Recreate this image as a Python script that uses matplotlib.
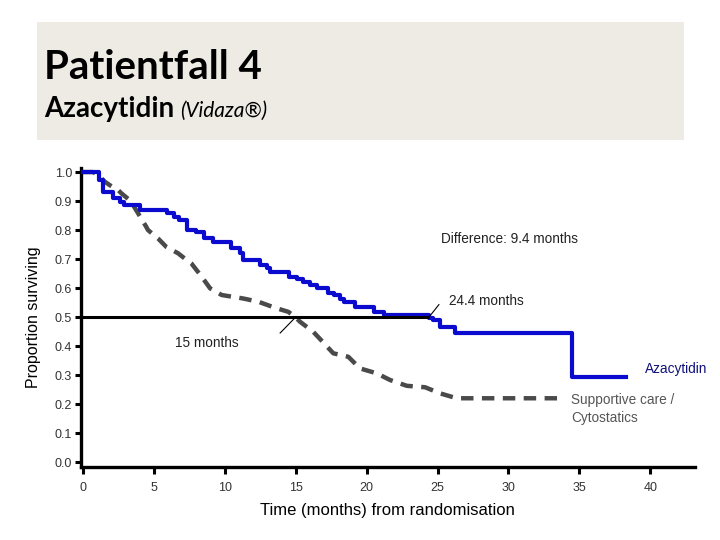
import matplotlib
matplotlib.use("Agg")
import matplotlib.pyplot as plt
from matplotlib.patches import Rectangle

# ---- data ----
aza_t = [0, 1.1, 1.4, 2.1, 2.6, 2.9, 4.0, 5.9, 6.4, 6.8, 7.3, 8.0, 8.5, 9.2, 10.4,
         11.1, 11.3, 12.5, 13.0, 13.2, 14.5, 15.1, 15.5, 16.0, 16.5, 17.3, 17.7,
         18.1, 18.4, 19.2, 20.5, 21.2, 24.4, 24.7, 25.2, 26.2, 34.5, 38.3]
aza_s = [1.0, 0.972, 0.93, 0.91, 0.898, 0.886, 0.869, 0.858, 0.846, 0.834, 0.80,
         0.794, 0.771, 0.76, 0.737, 0.72, 0.697, 0.679, 0.668, 0.656, 0.639, 0.63,
         0.622, 0.61, 0.599, 0.582, 0.576, 0.564, 0.553, 0.536, 0.518, 0.507, 0.496,
         0.49, 0.467, 0.444, 0.294, 0.294]

sc_t = [0, 0.7, 1.06, 1.53, 1.88, 2.47, 2.7, 3.29, 3.53, 3.88, 4.46, 4.58, 5.29, 5.87,
        6.7, 7.17, 7.64, 8.37, 8.96, 9.78, 11.3, 12.36, 13.54, 14.48, 14.95, 15.3,
        16.24, 16.95, 17.65, 18.71, 19.53, 20.71, 21.65, 22.83, 24.12, 25.18, 26.35,
        33.9]
sc_s = [1.0, 1.0, 0.99, 0.967, 0.955, 0.938, 0.927, 0.903, 0.886, 0.858, 0.811, 0.80,
        0.771, 0.742, 0.72, 0.702, 0.685, 0.639, 0.599, 0.576, 0.564, 0.553, 0.532,
        0.518, 0.501, 0.484, 0.449, 0.412, 0.375, 0.363, 0.323, 0.306, 0.283, 0.263,
        0.258, 0.237, 0.22, 0.22]

median_sc = 15.0
median_aza = 24.4
median_level = 0.5

x_ticks = [0, 5, 10, 15, 20, 25, 30, 35, 40]
y_ticks = [0.0, 0.1, 0.2, 0.3, 0.4, 0.5, 0.6, 0.7, 0.8, 0.9, 1.0]

title = "Patientfall 4"
subtitle = "Azacytidin"
subtitle2 = "(Vidaza®)"

# ---- figure ----
fig = plt.figure(figsize=(7.2, 5.4), dpi=100)
fig.patch.set_facecolor("white")
fig.patches.append(Rectangle((37 / 720, 1 - 140 / 540), 647 / 720, 118 / 540,
                             transform=fig.transFigure, facecolor="#EDEBE4",
                             edgecolor="none", zorder=0))
fig.text(44 / 720, 1 - 79 / 540, title, fontsize=29, fontweight="bold",
         family="Lato", color="black", ha="left", va="baseline")
fig.text(44 / 720, 1 - 117 / 540, subtitle, fontsize=20, fontweight="bold",
         family="Lato", color="black", ha="left", va="baseline")
fig.text(180 / 720, 1 - 117 / 540, subtitle2, fontsize=15, style="italic",
         family="Lato", color="black", ha="left", va="baseline")

ax = fig.add_axes([80.5 / 720, 1 - 467 / 540, (695 - 80.5) / 720, (467 - 168) / 540])
ax.set_xlim(-0.18, 43.16)
ax.set_ylim(-0.017, 1.014)

ax.plot(sc_t, sc_s, color="#4A4A4A", lw=3.2, linestyle=(0, (2.8, 1.9)),
        solid_capstyle="butt", dash_capstyle="butt", zorder=3)
ax.plot(aza_t, aza_s, color="#0B0BD0", lw=3.0, drawstyle="steps-post", zorder=4)

# median line and leaders
ax.plot([-0.18, median_aza], [median_level, median_level], color="black", lw=2.2,
        zorder=5, solid_capstyle="butt")
ax.plot([median_sc - 1.1, median_sc], [median_level - 0.055, median_level],
        color="black", lw=0.8, zorder=6)
ax.plot([median_aza, median_aza + 0.7], [median_level, median_level + 0.043],
        color="black", lw=0.8, zorder=6)

tf = dict(family="Liberation Sans", fontsize=9.8)
ax.text(25.25, 0.769, "Difference: 9.4 months", color="#222222", va="center", **tf)
ax.text(25.8, 0.555, "24.4 months", color="#222222", va="center", **tf)
ax.text(6.49, 0.41, "15 months", color="#222222", va="center", **tf)
ax.text(39.6, 0.321, "Azacytidin", color="#10107A", va="center", **tf)
ax.text(34.4, 0.183, "Supportive care /\nCytostatics", color="#555555",
        va="center", linespacing=1.35, **tf)

for s in ["top", "right"]:
    ax.spines[s].set_visible(False)
for s in ["left", "bottom"]:
    ax.spines[s].set_linewidth(2.4)

ax.set_xticks(x_ticks)
ax.set_xticklabels([str(v) for v in x_ticks])
ax.set_yticks(y_ticks)
ax.set_yticklabels([f"{v:.1f}" for v in y_ticks])
ax.tick_params(axis="y", length=4, width=2.2, pad=2, labelsize=9,
               labelcolor="#333333", direction="out")
ax.tick_params(axis="x", length=5, width=2.2, pad=6, labelsize=9,
               labelcolor="#333333", direction="out")
for lab in ax.get_xticklabels() + ax.get_yticklabels():
    lab.set_family("Liberation Sans")

ax.set_ylabel("Proportion surviving", family="Liberation Sans", fontsize=11.5,
              labelpad=10)
ax.set_xlabel("Time (months) from randomisation", family="Liberation Sans",
              fontsize=12, labelpad=6)

fig.savefig("out.png", dpi=100)
